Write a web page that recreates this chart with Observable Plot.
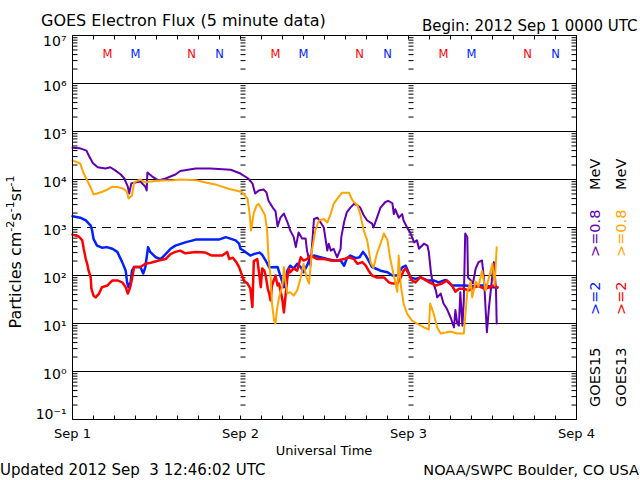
<!DOCTYPE html>
<html><head><meta charset="utf-8">
<script src="https://cdn.jsdelivr.net/npm/d3@7"></script>
<script src="https://cdn.jsdelivr.net/npm/@observablehq/plot@0.6"></script>
<style>body{margin:0;background:#fff;width:640px;height:480px;overflow:hidden}</style>
</head><body><div id="chart"></div>
<script>
// ---- time base: hours after 2012 Sep 1 00:00 UTC ----
const startUTC = Date.UTC(2012, 8, 1);
const dayHours = [0, 24, 48, 72];
const dayLabels = ["Sep 1", "Sep 2", "Sep 3", "Sep 4"];
const dayColumnHours = [24, 48];

// ---- y axis (log) ----
const decades = [1e-1, 1e0, 1e1, 1e2, 1e3, 1e4, 1e5, 1e6, 1e7];
const decadeLabels = ["10⁻¹", "10⁰", "10¹", "10²", "10³", "10⁴", "10⁵", "10⁶", "10⁷"];
const gridSolid = [1e0, 1e1, 1e2, 1e4, 1e5, 1e6];
const gridDashed = [1e3];

// ---- local midnight (M) / noon (N) markers ----
const markerHours = [5, 9, 17, 21, 29, 33, 41, 45, 53, 57, 65, 69];
const markerLabels = ["M", "M", "N", "N", "M", "M", "N", "N", "M", "M", "N", "N"];
const markerSats = ["GOES13", "GOES15", "GOES13", "GOES15", "GOES13", "GOES15", "GOES13", "GOES15", "GOES13", "GOES15", "GOES13", "GOES15"];

// ---- series: [hour, flux] ----
const goes15_2 = [[0,1.72e3],[1.1,1.6e3],[1.9,1.4e3],[2.6,1.1e3],[2.8,8.7e2],[3.0,5.8e2],[3.5,4.2e2],[4.2,3.8e2],[4.9,3.9e2],[5.7,3.6e2],[6.4,3.1e2],[7.1,1.9e2],[7.6,1.26e2],[7.8,7.2e1],[8.0,5.7e1],[8.3,7.2e1],[8.5,1.26e2],[8.8,1.5e2],[9.7,1.5e2],[10.1,1.1e2],[10.4,1.48e2],[10.8,3.9e2],[11.1,3.1e2],[11.9,2.4e2],[12.6,2.2e2],[13.3,2.8e2],[14.0,3.6e2],[14.7,4.2e2],[16.1,4.9e2],[17.6,5.6e2],[19.5,5.6e2],[20.9,5.6e2],[21.9,6.3e2],[23.3,5.4e2],[23.8,4.6e2],[24.0,3.6e2],[24.7,3.1e2],[25.4,2.6e2],[25.9,2.8e2],[26.7,3.0e2],[27.1,2.7e2],[27.6,2.05e2],[28.1,1.48e2],[28.6,1.48e2],[29.3,1.5e2],[29.9,7.9e1],[30.2,5.7e1],[30.7,1.26e2],[31.1,1.6e2],[31.6,1.4e2],[32.1,1.75e2],[32.6,1.5e2],[33.0,1.17e2],[33.5,1.6e2],[34.0,2.4e2],[34.5,2.6e2],[35.4,2.4e2],[36.4,2.2e2],[37.3,2.05e2],[38.3,2.05e2],[38.8,1.6e2],[39.2,2.3e2],[39.7,2.6e2],[40.5,2.3e2],[41.0,2.4e2],[41.5,3.1e2],[41.9,2.6e2],[42.3,2.05e2],[42.8,1.5e2],[43.3,1.4e2],[44.0,1.26e2],[45.0,1.17e2],[45.7,1.0e2],[46.4,1.0e2],[47.1,1.48e2],[47.6,1.6e2],[48.3,9.1e1],[49.0,8.5e1],[49.7,9.1e1],[50.7,7.9e1],[51.6,7.9e1],[52.3,7.2e1],[53.3,8.1e1],[54.2,6.2e1],[55.2,6.2e1],[56.1,6.2e1],[57.1,6.0e1],[58.0,6.2e1],[59.0,6.2e1],[60.0,5.7e1],[60.7,5.7e1]];

const goes13_2 = [[0,7.1e2],[0.9,6.5e2],[1.4,5.4e2],[1.6,3.6e2],[1.9,2.2e2],[2.1,1.75e2],[2.3,1.26e2],[2.6,9.1e1],[2.7,5.3e1],[3.0,3.8e1],[3.3,3.5e1],[3.8,4.2e1],[4.2,5.7e1],[5.0,6.2e1],[5.7,7.9e1],[6.4,7.9e1],[7.1,7.2e1],[7.6,5.7e1],[7.9,4.2e1],[8.2,5.4e1],[8.5,8.5e1],[8.8,1.5e2],[9.7,1.5e2],[10.4,1.75e2],[11.2,1.85e2],[12.3,2.05e2],[13.3,2.2e2],[14.0,2.8e2],[14.7,3.1e2],[15.4,3.3e2],[16.1,2.9e2],[17.6,3.1e2],[19.0,3.0e2],[19.9,2.6e2],[21.4,2.6e2],[22.1,3.1e2],[22.4,2.2e2],[22.9,2.35e2],[23.4,1.9e2],[23.8,1.5e2],[24.5,7.7e1],[25.0,6.8e1],[25.4,5.4e1],[25.7,2.2e1],[25.9,2.0e2],[26.4,2.2e2],[26.9,5.7e1],[27.1,1.4e2],[27.4,1.26e2],[27.6,1.0e2],[27.9,5.3e1],[28.1,4.2e1],[28.3,3.0e1],[28.5,6.2e1],[29.0,1.0e2],[29.3,6.2e1],[29.5,6.8e1],[30.0,3.0e1],[30.2,1.7e1],[30.7,9.1e1],[30.9,1.4e2],[31.1,1.17e2],[31.6,1.4e2],[32.1,1.26e2],[32.6,2.4e2],[33.0,2.05e2],[33.5,2.2e2],[34.0,2.6e2],[35.0,2.2e2],[36.0,2.2e2],[36.9,2.05e2],[37.8,2.05e2],[38.8,2.2e2],[39.5,2.4e2],[40.2,2.2e2],[40.7,1.75e2],[41.4,1.9e2],[41.9,1.6e2],[42.3,1.26e2],[42.8,1.0e2],[43.5,9.1e1],[44.5,9.1e1],[45.2,7.2e1],[45.7,6.8e1],[46.4,6.8e1],[46.9,9.1e1],[47.3,1.26e2],[47.6,1.4e2],[48.0,1.1e2],[48.5,7.9e1],[49.0,7.2e1],[49.7,9.3e1],[50.5,7.9e1],[51.1,7.0e1],[51.9,6.2e1],[52.8,6.8e1],[53.5,7.9e1],[54.2,6.2e1],[54.7,4.6e1],[55.2,5.3e1],[55.9,5.3e1],[56.6,4.9e1],[57.3,5.6e1],[58.0,6.0e1],[58.8,5.3e1],[59.5,5.6e1],[60.2,6.2e1],[60.7,5.6e1]];

const goes15_08 = [[0,4.6e4],[1,4.5e4],[2,4.0e4],[2.4,3.0e4],[2.9,2.2e4],[3.6,1.8e4],[4.7,1.7e4],[5.4,1.8e4],[6.1,1.55e4],[6.9,1.27e4],[7.4,1.05e4],[7.9,7.1e3],[8.1,5.1e3],[8.4,8.3e3],[9.0,8.7e3],[9.7,9.1e3],[10.4,7.1e3],[10.6,5.9e3],[10.7,1.4e4],[11.4,1.15e4],[12.3,9.5e3],[13.3,1.05e4],[14.7,1.27e4],[15.4,1.5e4],[17.6,1.7e4],[19.7,1.7e4],[22.6,1.6e4],[24.0,1.33e4],[25.1,1.05e4],[25.7,8.3e3],[26.1,5.1e3],[26.6,5.9e3],[27.3,6.2e3],[27.7,5.4e3],[28.0,3.6e3],[28.6,2.6e3],[29.0,2.2e3],[29.3,1.05e3],[29.7,1.6e3],[30.2,1.95e3],[30.7,1.3e3],[31.1,8.7e2],[31.6,6.3e2],[31.9,3.9e2],[32.3,7.9e2],[32.8,5.9e2],[33.3,5.9e2],[33.5,3.3e2],[34.0,1.6e2],[34.2,3.9e2],[34.5,1.5e3],[35.0,1.6e3],[35.4,1.3e3],[35.9,1.0e3],[36.4,3.3e2],[36.6,4.6e2],[36.9,3.3e2],[37.3,3.6e2],[37.8,2.4e2],[38.3,3.6e2],[38.4,6.3e2],[38.8,1.3e3],[39.2,2.1e3],[39.7,2.6e3],[40.2,3.1e3],[40.7,2.9e3],[41.1,2.6e3],[41.6,1.8e3],[42.1,1.4e3],[42.8,1.2e3],[43.0,1.0e3],[43.5,1.6e3],[44.0,2.6e3],[44.7,3.4e3],[45.1,3.6e3],[45.7,3.2e3],[45.9,1.9e3],[46.1,2.4e3],[46.6,1.6e3],[47.1,1.9e3],[47.3,1.4e3],[47.8,1.0e3],[48.3,7.5e2],[48.8,4.9e2],[49.2,5.4e2],[49.5,3.6e2],[50.2,4.6e2],[50.7,4.2e2],[50.9,3.1e2],[51.2,1.17e2],[51.4,7.9e1],[51.9,4.9e1],[52.1,3.5e1],[52.6,4.2e1],[53.0,2.6e1],[53.5,2.0e1],[54.0,1.35e1],[54.5,8.3],[54.7,1.9e1],[54.96,1.0e1],[55.2,9],[55.4,4.5e1],[55.7,9],[55.9,3.0e1],[56.1,7.5e2],[56.4,6.3e2],[56.5,9.1e1],[56.9,7.9e1],[57.2,6.8e1],[57.6,1.4e2],[58.0,1.9e2],[58.5,2.05e2],[58.8,7.9e1],[59.0,2.2e1],[59.2,6.6],[59.5,2.2e1],[60.0,1.07e2],[60.2,1.9e2],[60.5,4.9e1],[60.6,1.0e1]];

const goes13_08 = [[0,2.5e4],[1.1,2.15e4],[1.6,1.33e4],[2.1,9.5e3],[2.6,6.8e3],[3.0,4.9e3],[3.5,5.1e3],[4.2,5.5e3],[5.0,6.2e3],[5.7,7.1e3],[6.4,7.0e3],[7.3,6.4e3],[7.8,5.5e3],[8.0,4.0e3],[8.5,4.6e3],[8.8,8.7e3],[9.7,1.0e4],[10.4,8.7e3],[11.1,9.1e3],[12.6,9.5e3],[14.4,9.7e3],[15.4,1.0e4],[17.6,9.7e3],[19.0,8.7e3],[20.4,7.9e3],[22.3,6.4e3],[24.2,5.5e3],[25.0,4.0e3],[25.3,1.95e3],[25.5,8.7e2],[25.9,2.0e3],[26.3,2.9e3],[26.6,3.1e3],[27.0,2.45e3],[27.5,1.8e3],[27.8,8.7e2],[28.0,2.4e2],[28.3,9.1e1],[28.5,2.6e1],[28.8,1.15e1],[29.0,1.0e1],[29.2,1.9e1],[29.5,3.5e1],[30.0,6.2e1],[30.2,1.5e2],[30.4,7.9e1],[30.7,4.2e1],[31.1,4.5e1],[31.6,3.8e1],[32.1,4.9e1],[32.6,9.1e1],[33.0,1.75e2],[33.4,9.5e1],[33.8,6.8e1],[34.2,3.3e2],[34.7,8.7e2],[35.2,1.4e3],[35.9,1.5e3],[36.4,1.27e3],[36.9,1.95e3],[37.3,3.1e3],[38.0,4.3e3],[38.5,5.3e3],[39.5,5.3e3],[40.0,3.65e3],[40.7,2.9e3],[41.1,1.9e3],[41.6,8.7e2],[42.1,5.4e2],[42.6,1.85e2],[43.0,1.45e2],[43.5,2.9e2],[44.0,4.6e2],[44.5,7.5e2],[45.0,5.4e2],[45.4,2.2e2],[45.9,1.0e2],[46.4,4.6e1],[46.6,2.6e2],[46.9,6.2e1],[47.3,2.6e1],[47.8,1.6e1],[48.5,1.15e1],[49.2,1.0e1],[50.2,8.3],[50.9,7.5],[51.1,2.6e1],[51.6,1.6e1],[52.1,8.3],[52.6,6.2],[54.0,6.8],[54.95,6.2],[55.9,6.2],[56.1,1.35e1],[56.4,4.5e1],[56.9,7.5e1],[57.1,3.5e1],[57.6,7.5e1],[58.0,5.9e1],[58.5,1.26e2],[59.0,4.9e1],[59.5,9.1e1],[60.0,1.75e2],[60.3,6.2e1],[60.6,3.9e2]];

// ---- colours ----
const colors = {GOES15_2: "#0022ff", GOES13_2: "#ff0000", GOES15_08: "#6000b0", GOES13_08: "#ffa500"};
const satColor = {GOES13: "#ff0000", GOES15: "#0022ff"};

// ---- helpers ----
const toDate = h => new Date(startUTC + h * 3600e3);
const toRows = arr => arr.map(([h, v]) => ({t: toDate(h), v}));
const minorTicks = decades.slice(0, -1).flatMap(d => [2,3,4,5,6,7,8,9].map(k => k * d));
const xTicks = d3.range(0, 72 + 1, 3).map(toDate);
const dayColumnTicks = dayColumnHours.flatMap(h => minorTicks.map(v => ({t: toDate(h), v})));
const markers = markerHours.map((h, i) => ({t: toDate(h), label: markerLabels[i], color: satColor[markerSats[i]]}));
const expLabel = new Map(decades.map((d, i) => [Math.round(Math.log10(d)), decadeLabels[i]]));
const fmtY = d => expLabel.get(Math.round(Math.log10(d)));
const innerDecades = decades.slice(1, -1);

const tickRight = {draw(c) { c.moveTo(0, 0); c.lineTo(5, 0); }};
const tickLeft = {draw(c) { c.moveTo(0, 0); c.lineTo(-5, 0); }};
const tickUp = {draw(c) { c.moveTo(0, 0); c.lineTo(0, -4); }};
const tickDown = {draw(c) { c.moveTo(0, 0); c.lineTo(0, 4); }};

const chart = Plot.plot({
  width: 640, height: 480,
  marginLeft: 72, marginRight: 64, marginTop: 35, marginBottom: 61,
  style: {fontFamily: "'DejaVu Sans', sans-serif", fontSize: "14px", color: "black", background: "white", overflow: "visible"},
  x: {type: "utc", domain: [toDate(dayHours[0]), toDate(dayHours[3])], label: null},
  y: {type: "log", domain: [decades[0], decades[decades.length - 1]], label: null},
  marks: [
    Plot.ruleY(gridSolid, {stroke: "black", strokeWidth: 1}),
    Plot.ruleY(gridDashed, {stroke: "black", strokeWidth: 1, strokeDasharray: "9,6"}),
    Plot.dot(minorTicks, {y: d => d, frameAnchor: "left", symbol: tickRight, stroke: "black", fill: "none", strokeWidth: 1}),
    Plot.dot(minorTicks, {y: d => d, frameAnchor: "right", symbol: tickLeft, stroke: "black", fill: "none", strokeWidth: 1}),
    Plot.dot(dayColumnTicks, {x: "t", y: "v", symbol: tickRight, stroke: "black", fill: "none", strokeWidth: 1}),
    Plot.dot(xTicks, {x: d => d, frameAnchor: "bottom", symbol: tickUp, stroke: "black", fill: "none", strokeWidth: 1}),
    Plot.dot(xTicks, {x: d => d, frameAnchor: "top", symbol: tickDown, stroke: "black", fill: "none", strokeWidth: 1}),
    Plot.line(toRows(goes15_2), {x: "t", y: "v", stroke: colors.GOES15_2, strokeWidth: 2.5}),
    Plot.line(toRows(goes15_08), {x: "t", y: "v", stroke: colors.GOES15_08, strokeWidth: 2}),
    Plot.line(toRows(goes13_2), {x: "t", y: "v", stroke: colors.GOES13_2, strokeWidth: 2.5}),
    Plot.line(toRows(goes13_08), {x: "t", y: "v", stroke: colors.GOES13_08, strokeWidth: 2}),
    Plot.text(markers, {x: "t", frameAnchor: "top", dy: 14, text: "label", fill: "color", fontSize: 11.5}),
    Plot.frame({stroke: "black", strokeWidth: 1}),
    Plot.axisY(innerDecades, {anchor: "left", tickSize: 0, tickPadding: 6, dy: 3, fontSize: 14, label: null, tickFormat: fmtY}),
    Plot.axisY([decades[0]], {anchor: "left", tickSize: 0, tickPadding: 6, dy: -5, fontSize: 14, label: null, tickFormat: fmtY}),
    Plot.axisY([decades[decades.length - 1]], {anchor: "left", tickSize: 0, tickPadding: 6, dy: 6, fontSize: 14, label: null, tickFormat: fmtY}),
    Plot.axisX(dayHours.map(toDate), {anchor: "bottom", tickSize: 0, tickPadding: 9, fontSize: 13, label: null,
      tickFormat: d => dayLabels[Math.round((d - startUTC) / 864e5)]})
  ]
});
document.getElementById("chart").appendChild(chart);

// ---- titles, labels, legend ----
const svg = d3.select(chart);
function addText(x, y, str, o = {}) {
  const t = svg.append("text").attr("x", x).attr("y", y)
    .attr("font-family", "'DejaVu Sans', sans-serif")
    .attr("font-size", o.size || 15).attr("fill", o.fill || "black")
    .attr("text-anchor", o.anchor || "start").text(str);
  if (o.rotate) t.attr("transform", `rotate(${o.rotate},${x},${y})`);
  return t;
}
addText(41, 26, "GOES Electron Flux (5 minute data)", {size: 16});
addText(422, 31, "Begin: 2012 Sep 1 0000 UTC", {size: 15});
addText(324, 455, "Universal Time", {size: 13, anchor: "middle"});
addText(0, 475, "Updated 2012 Sep  3 12:46:02 UTC", {size: 15}).style("white-space", "pre");
addText(639, 475, "NOAA/SWPC Boulder, CO USA", {size: 14.5, anchor: "end"});

// y-axis title with superscripts
const yl = svg.append("text").attr("transform", "translate(21,252) rotate(-90)")
  .attr("font-family", "'DejaVu Sans', sans-serif").attr("font-size", 16).attr("text-anchor", "middle");
const ylParts = [["Particles cm", 0], ["-2", 1], ["s", 0], ["-1", 1], ["sr", 0], ["-1", 1]];
let raised = false;
ylParts.forEach(([s, sup]) => {
  const ts = yl.append("tspan").text(s);
  if (sup && !raised) { ts.attr("dy", -7).attr("font-size", 11); raised = true; }
  else if (sup) { ts.attr("font-size", 11); }
  else if (raised) { ts.attr("dy", 7); raised = false; }
});

// right-side legend
const legendCols = [
  {x: 600, parts: [["GOES15", "black", 407], [">=2", colors.GOES15_2, 315], [">=0.8", colors.GOES15_08, 257], ["MeV", "black", 190]]},
  {x: 626, parts: [["GOES13", "black", 407], [">=2", colors.GOES13_2, 315], [">=0.8", colors.GOES13_08, 257], ["MeV", "black", 190]]}
];
legendCols.forEach(col => col.parts.forEach(([s, c, y]) => addText(col.x, y, s, {size: 14.5, fill: c, rotate: -90})));
</script>
</body></html>
